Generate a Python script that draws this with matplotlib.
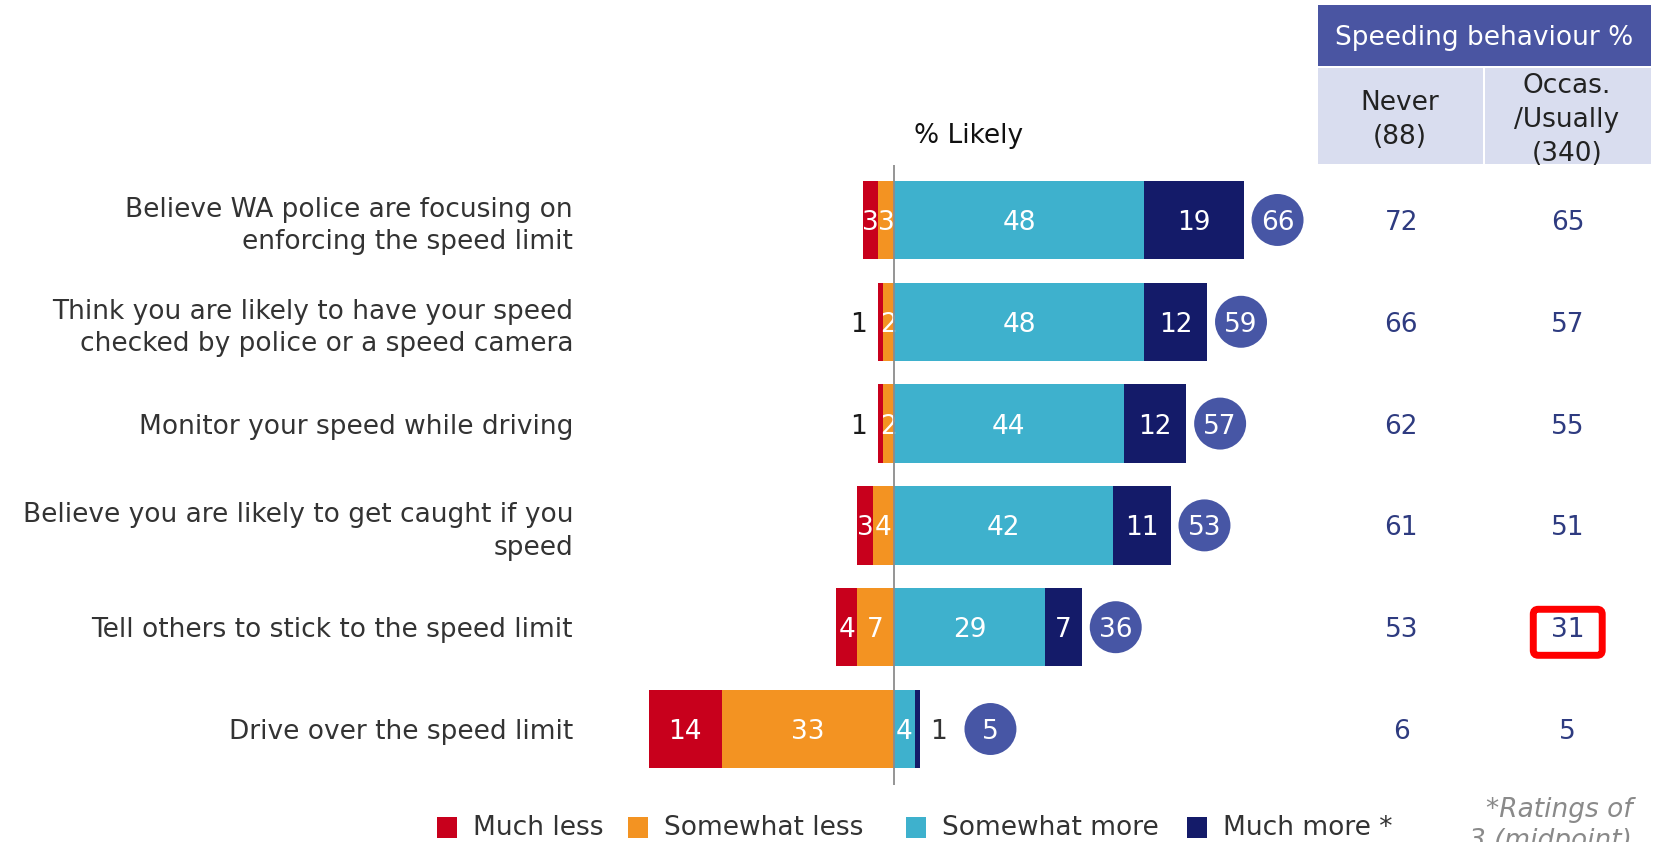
import matplotlib
matplotlib.use("Agg")
import matplotlib.pyplot as plt
from matplotlib.patches import Rectangle, FancyBboxPatch

# Likelihood ratings by statement (%), left side = less likely, right side = more likely
statements = [
    "Believe WA police are focusing on\nenforcing the speed limit",
    "Think you are likely to have your speed\nchecked by police or a speed camera",
    "Monitor your speed while driving",
    "Believe you are likely to get caught if you\nspeed",
    "Tell others to stick to the speed limit",
    "Drive over the speed limit",
]
much_less = [3, 1, 1, 3, 4, 14]
somewhat_less = [3, 2, 2, 4, 7, 33]
somewhat_more = [48, 48, 44, 42, 29, 4]
much_more = [19, 12, 12, 11, 7, 1]
net_likely = [66, 59, 57, 53, 36, 5]

# Net likely split by speeding behaviour
never = [72, 66, 62, 61, 53, 6]
occasionally = [65, 57, 55, 51, 31, 5]
table_cols = ["Never\n(88)", "Occas.\n/Usually\n(340)"]
highlight = (4, 1)  # row, column of the boxed cell

legend_labels = ["Much less", "Somewhat less", "Somewhat more", "Much more *"]
colors = ["#C8001C", "#F39322", "#3EB1CD", "#141B69"]
circle_color = "#4756A5"
header_color = "#4A55A2"
sub_color = "#D9DDEF"
num_color = "#2E3B80"

W, H = 1659, 842
FS = 19
NUM = dict(ha="center", va="center_baseline", fontsize=FS)


def fx(x):
    return x / W


def fy(y):
    return 1 - y / H


fig = plt.figure(figsize=(W / 100, H / 100), dpi=100)

# main diverging bar chart
ax = fig.add_axes([fx(600), fy(785), 700 / W, 620 / H])
rows = list(range(len(statements)))
bh = 0.77
for i in rows:
    ml, sl, sm, mm = much_less[i], somewhat_less[i], somewhat_more[i], much_more[i]
    ax.barh(i, -ml, left=-sl, height=bh, color=colors[0], edgecolor="none")
    ax.barh(i, -sl, left=0, height=bh, color=colors[1], edgecolor="none")
    ax.barh(i, sm, left=0, height=bh, color=colors[2], edgecolor="none")
    ax.barh(i, mm, left=sm, height=bh, color=colors[3], edgecolor="none")

    # segment labels (tiny segments get their label outside the bar)
    if ml > 1:
        ax.text(-sl - ml / 2, i, str(ml), color="white", **NUM)
    else:
        ax.text(-sl - ml - 3.8, i, str(ml), color="#1a1a1a", **NUM)
    ax.text(-sl / 2, i, str(sl), color="white", **NUM)
    ax.text(sm / 2, i, str(sm), color="white", **NUM)
    gap = 6.5
    if mm > 1:
        ax.text(sm + mm / 2, i, str(mm), color="white", **NUM)
    else:
        ax.text(sm + mm + 3.6, i, str(mm), color="#333333", **NUM)
        gap = 13.5

    # net likely bubble
    cx = sm + mm + gap
    ax.scatter(cx, i, s=1400, color=circle_color, edgecolor="none", zorder=4, clip_on=False)
    ax.text(cx, i, str(net_likely[i]), color="white", zorder=5, **NUM)

ax.axvline(0, color="#8c8c8c", lw=1.3, zorder=3)
ax.set_xlim(-56.3, 77.8)
ax.set_ylim(5.55, -0.54)
ax.set_yticks(rows)
ax.set_yticklabels(statements, fontsize=FS, color="#333333", linespacing=1.32)
ax.tick_params(axis="y", length=0, pad=19.4)
ax.set_xticks([])
for s in ax.spines.values():
    s.set_visible(False)

fig.text(fx(969), fy(136), "% Likely", ha="center", va="center", fontsize=FS, color="#111111")

# speeding behaviour table
fig.add_artist(Rectangle((fx(1318), fy(66)), 333 / W, 61 / H, transform=fig.transFigure,
                         color=header_color, lw=0))
fig.text(fx(1484), fy(38), "Speeding behaviour %", ha="center", va="center",
         color="white", fontsize=FS)
for x0, w, xc, lab in [(1318, 165, 1400, table_cols[0]), (1485, 166, 1567, table_cols[1])]:
    fig.add_artist(Rectangle((fx(x0), fy(164)), w / W, 96 / H, transform=fig.transFigure,
                             color=sub_color, lw=0))
    fig.text(fx(xc), fy(120), lab, ha="center", va="center", color="#222222",
             fontsize=FS, linespacing=1.38)

tab = fig.add_axes([fx(1318), fy(785), 333 / W, 620 / H])
tab.set_xlim(0, 2)
tab.set_ylim(ax.get_ylim())
tab.axis("off")
for i in rows:
    tab.text(0.5, i, str(never[i]), color=num_color, **NUM)
    tab.text(1.5, i, str(occasionally[i]), color=num_color, **NUM)

hr, hc = highlight
bw, bhh = 0.414, 0.452
tab.add_patch(FancyBboxPatch((hc + 0.5 - bw / 2, hr + 0.05 - bhh / 2), bw, bhh,
                             boxstyle="round,pad=0,rounding_size=0.03",
                             mutation_aspect=1.64, fill=False, edgecolor="#FF0000",
                             lw=5, clip_on=False))

# legend
for x, lab, c in zip([437, 628, 906, 1187], legend_labels, colors):
    fig.add_artist(Rectangle((fx(x), fy(838)), 20 / W, 21 / H, transform=fig.transFigure,
                             color=c, lw=0))
    fig.text(fx(x + 36), fy(828), lab, ha="left", va="center", fontsize=FS, color="#333333")

fig.text(fx(1632), fy(797), "*Ratings of\n3 (midpoint)", ha="right", va="top",
         fontsize=FS, style="italic", color="#8a8a8a", linespacing=1.25)

fig.savefig("out.png", dpi=100)
